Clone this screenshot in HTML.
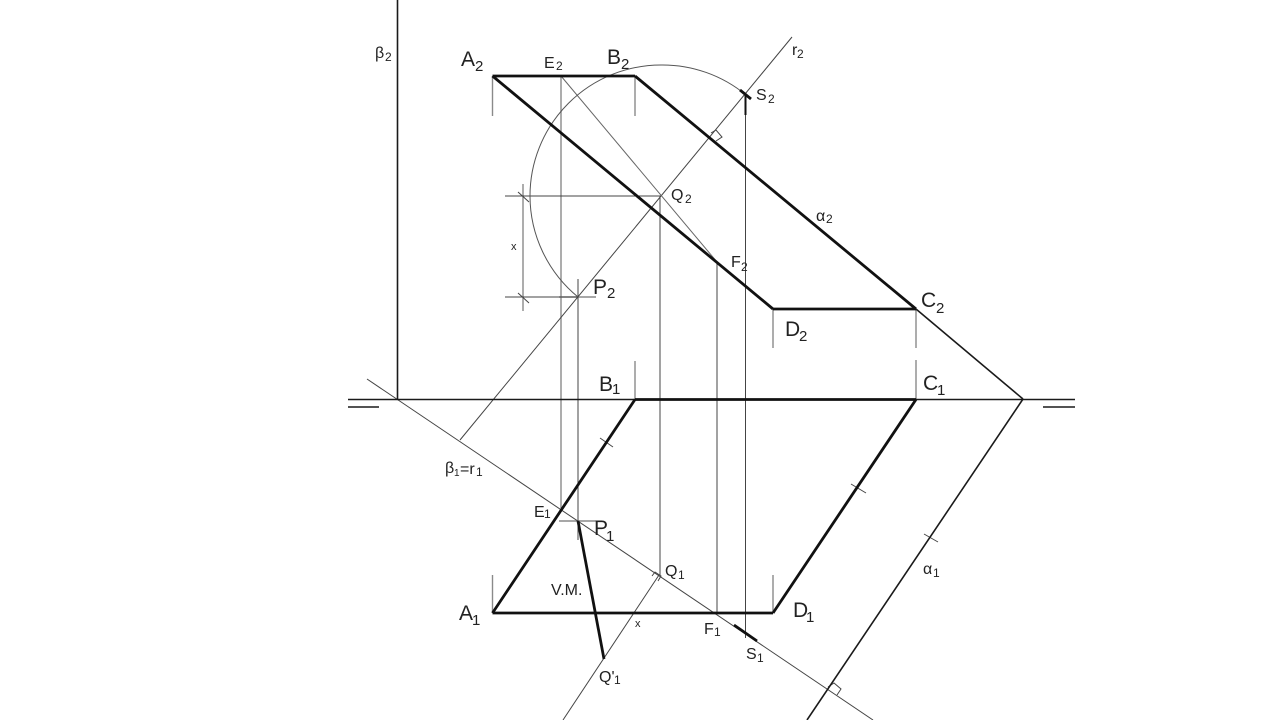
<!DOCTYPE html>
<html>
<head>
<meta charset="utf-8">
<style>
html,body{margin:0;padding:0;background:#fff;width:1280px;height:720px;overflow:hidden}
svg{display:block}
text{font-family:"Liberation Sans",sans-serif;fill:#222}
.b{font-size:21px}
.sb{font-size:15px}
.s{font-size:16px}
.m{font-size:15px}
.l{font-size:12px}
.x{font-size:11px}
</style>
</head>
<body>
<svg width="1280" height="720" viewBox="0 0 1280 720" xmlns="http://www.w3.org/2000/svg">
<rect width="1280" height="720" fill="#fff"/>
<g fill="none" stroke-linecap="butt">
  <!-- gray verticals and ticks -->
  <g stroke="#8a8a8a" stroke-width="1.4">
    <line x1="561" y1="76" x2="561" y2="508"/>
    <line x1="492.5" y1="76" x2="492.5" y2="116"/>
    <line x1="635" y1="76" x2="635" y2="116"/>
    <line x1="773" y1="309" x2="773" y2="348"/>
    <line x1="916" y1="309" x2="916" y2="348"/>
    <line x1="916" y1="360" x2="916" y2="399"/>
    <line x1="635" y1="361" x2="635" y2="399"/>
    <line x1="492.5" y1="575" x2="492.5" y2="613"/>
    <line x1="773" y1="575" x2="773" y2="613"/>
    <line x1="523" y1="184" x2="523" y2="311"/>
    <line x1="559" y1="297" x2="596" y2="297"/>
    <line x1="559" y1="521" x2="596" y2="521"/>
  </g>
  <!-- thin construction lines -->
  <g stroke="#444" stroke-width="1">
    <line x1="578" y1="279" x2="578" y2="540"/>
    <line x1="660" y1="196" x2="660" y2="575"/>
    <line x1="717" y1="262" x2="717" y2="613"/>
    <line x1="745.5" y1="95" x2="745.5" y2="638"/>
    <line x1="505" y1="196" x2="661" y2="196"/>
    <line x1="505" y1="297" x2="578" y2="297"/>
    <line x1="460" y1="440" x2="792" y2="37"/>
    <line x1="367" y1="379" x2="873" y2="720"/>
    <line x1="659" y1="575" x2="563" y2="720"/>
    <line x1="561" y1="76" x2="717" y2="262" stroke="#666"/>
    <path d="M746 95 A131 131 0 0 0 661 65 A131 131 0 0 0 530 196 A131 131 0 0 0 578 297" stroke="#555"/>
    <!-- right angle marks -->
    <path d="M711 133 L716 130 L722 137 L716 141"/>
    <path d="M828 687 L834 683 L841 689 L837 695"/>
    <path d="M652 576 L655 572 L661 576 L658 581"/>
    <!-- dimension and length ticks -->
    <line x1="518" y1="192" x2="529" y2="202"/>
    <line x1="518" y1="293" x2="529" y2="303"/>
    <line x1="600" y1="438" x2="613" y2="447"/>
    <line x1="851" y1="484" x2="866" y2="493"/>
    <line x1="924" y1="534" x2="938" y2="542"/>
  </g>
  <!-- medium lines -->
  <g stroke="#1a1a1a" stroke-width="1.6">
    <line x1="397.5" y1="0" x2="397.5" y2="399"/>
    <line x1="348" y1="399.5" x2="1075" y2="399.5"/>
    <line x1="348" y1="407" x2="379" y2="407"/>
    <line x1="1043" y1="407" x2="1075" y2="407"/>
    <line x1="916" y1="309" x2="1023" y2="399"/>
    <line x1="1023" y1="399" x2="807" y2="720"/>
  </g>
  <!-- thick lines -->
  <g stroke="#111" stroke-width="2.8">
    <line x1="492.5" y1="76" x2="635" y2="76"/>
    <line x1="492.5" y1="76" x2="773" y2="309"/>
    <line x1="635" y1="76" x2="916" y2="309"/>
    <line x1="773" y1="309" x2="916" y2="309"/>
    <line x1="635" y1="399.5" x2="916" y2="399.5"/>
    <line x1="635" y1="399.5" x2="492.5" y2="613"/>
    <line x1="916" y1="399.5" x2="773" y2="613"/>
    <line x1="492.5" y1="613" x2="773" y2="613"/>
    <line x1="578" y1="521" x2="604" y2="659"/>
    <line x1="734" y1="625" x2="757" y2="641"/>
    <line x1="740" y1="90" x2="751" y2="99"/>
    <line x1="745.5" y1="95" x2="745.5" y2="115" stroke-width="2"/>
  </g>
</g>
<!-- labels -->
<text class="b" x="461" y="66">A</text><text class="sb" x="475" y="71">2</text>
<text class="b" x="607" y="64">B</text><text class="sb" x="621" y="69">2</text>
<text class="s" x="544" y="68">E</text><text class="l" x="556" y="70">2</text>
<text class="s" x="375" y="58" fill="#555">β</text><text class="l" x="385" y="61" fill="#666">2</text>
<text class="s" x="792" y="55">r</text><text class="l" x="797" y="58">2</text>
<text class="s" x="756" y="100">S</text><text class="l" x="768" y="103">2</text>
<text class="s" x="671" y="200">Q</text><text class="l" x="685" y="203">2</text>
<text class="s" x="816" y="221" fill="#444">α</text><text class="l" x="826" y="223" fill="#444">2</text>
<text class="s" x="731" y="267">F</text><text class="l" x="741" y="271">2</text>
<text class="x" x="511" y="250">x</text>
<text class="b" x="593" y="294">P</text><text class="sb" x="607" y="298">2</text>
<text class="b" x="921" y="307">C</text><text class="sb" x="936" y="313">2</text>
<text class="b" x="785" y="336">D</text><text class="sb" x="799" y="341">2</text>
<text class="b" x="599" y="391">B</text><text class="sb" x="612" y="394">1</text>
<text class="b" x="923" y="390">C</text><text class="sb" x="937" y="395">1</text>
<text class="s" x="445" y="473" fill="#444">β</text><text class="x" x="454" y="476" style="font-size:10px" fill="#444">1</text><text class="s" x="460" y="474" fill="#444">=r</text><text class="l" x="476" y="476" fill="#444">1</text>
<text class="s" x="534" y="517">E</text><text class="l" x="544" y="518">1</text>
<text class="b" x="594" y="535">P</text><text class="sb" x="606" y="541">1</text>
<text class="s" x="665" y="576">Q</text><text class="l" x="678" y="579">1</text>
<text class="s" x="551" y="595">V.M.</text>
<text class="b" x="459" y="620">A</text><text class="sb" x="472" y="625">1</text>
<text class="x" x="635" y="627">x</text>
<text class="s" x="704" y="634">F</text><text class="l" x="714" y="636">1</text>
<text class="b" x="793" y="617">D</text><text class="sb" x="806" y="622">1</text>
<text class="s" x="746" y="659">S</text><text class="l" x="757" y="662">1</text>
<text class="s" x="599" y="682">Q'</text><text class="l" x="614" y="684">1</text>
<text class="s" x="923" y="574" fill="#444">α</text><text class="l" x="933" y="577" fill="#444">1</text>
</svg>
</body>
</html>
